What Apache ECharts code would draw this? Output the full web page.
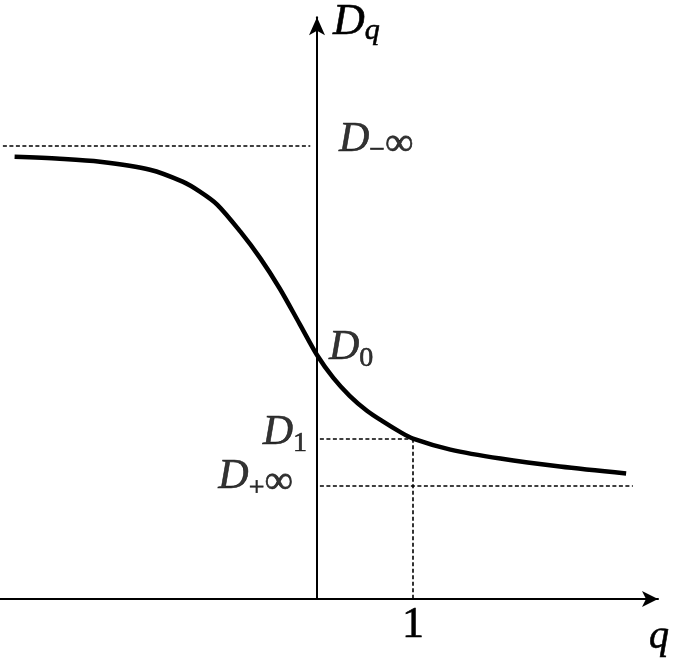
<!DOCTYPE html>
<html>
<head>
<meta charset="utf-8">
<title>D_q</title>
<script src="https://cdn.jsdelivr.net/npm/echarts@6/dist/echarts.min.js"></script>
<style>
    html, body { margin: 0; padding: 0; background: #fff; }
    #myChart { width: 685px; height: 660px; }
</style>
</head>
<body>
<div id="myChart"></div>
<script>
// curve D(q)
var qVals = [-3.15, -2.68, -2.26, -1.74, -1.40, -1.22, -1.04, -0.80, -0.59, -0.39, -0.18, 0, 0.17, 0.34, 0.52, 0.69, 0.86, 1.0, 1.39, 1.91, 2.53, 3.22];
var dVals = [4.44, 4.42, 4.39, 4.31, 4.19, 4.09, 3.96, 3.69, 3.42, 3.12, 2.76, 2.45, 2.22, 2.04, 1.89, 1.78, 1.68, 1.61, 1.50, 1.41, 1.33, 1.26];

// reference levels on the D axis
var levelNames = ['−∞', '0', '1', '+∞'];
var levelVals = [4.55, 2.45, 1.61, 1.14];
var qOne = 1;
var xTicks = [1];

var qMin = -3.302, qMax = 3.552;
var dMin = 0, dMax = 5.84;

var serif = 'Liberation Serif, Times New Roman, serif';
var myChart_1 = echarts.init(document.getElementById('myChart'));

function richText(big){
    var ink = {color: '#000', textBorderColor: '#000', textBorderWidth: 0.6, fontFamily: serif};
    return {
        d: echarts.util.extend({fontStyle: 'italic', fontSize: big || 42, lineHeight: 46, padding: [0, 0, 5, 0], verticalAlign: 'top'}, ink),
        s: echarts.util.extend({fontSize: 28, lineHeight: 28, verticalAlign: 'bottom'}, ink),
        inf: echarts.util.extend({fontSize: 40, lineHeight: 30, verticalAlign: 'bottom'}, ink),
        si: echarts.util.extend({fontStyle: 'italic', fontSize: 30, lineHeight: 30, verticalAlign: 'bottom'}, ink)
    };
}

var curve = [];
for(var i=0; i<qVals.length; i++){
    curve.push([qVals[i], dVals[i]]);
}

// label anchors sit on the D axis (q = 0)
var labelPos = ['right', 'right', 'left', 'left'];
var labelDist = [22, 12, 10, 24];
var labelOff = [[0, -4], [0, -5], [0, -4], [0, -6]];
var labelPts = [];
for(var j=0; j<levelVals.length; j++){
    labelPts.push({
        value: [0, levelVals[j]],
        label: {
            show: true, position: labelPos[j], distance: labelDist[j], offset: labelOff[j], color: '#000',
            formatter: '{d|D}{s|' + levelNames[j].replace('∞', '}{inf|∞') + '}',
            rich: richText()
        }
    });
}

var dash = {type: [4, 2.5], color: '#000', width: 1.6};
var option = {
    animation: false,
    backgroundColor: '#fff',
    grid: {left: 0, right: 27, top: 15, bottom: 61, containLabel: false},
    xAxis: {
        type: 'value', min: qMin, max: qMax,
        name: 'q', nameLocation: 'end', nameGap: 1,
        nameTextStyle: {fontFamily: serif, fontStyle: 'italic', fontSize: 40, color: '#000', textBorderColor: '#000', textBorderWidth: 0.6, align: 'center', verticalAlign: 'top', padding: [18, 0, 0, 0]},
        axisLine: {show: true, onZero: true, symbol: ['none', 'arrow'], symbolSize: [12, 16], lineStyle: {color: '#000', width: 2}},
        axisTick: {show: false},
        splitLine: {show: false},
        axisLabel: {customValues: xTicks, margin: 4, fontFamily: serif, fontSize: 44, color: '#000', textBorderColor: '#000', textBorderWidth: 0.6, formatter: function(v){ return String(v); }}
    },
    yAxis: {
        type: 'value', min: dMin, max: dMax,
        name: '{d|D}{si|q}', nameLocation: 'end', nameGap: -6,
        nameTextStyle: {align: 'left', verticalAlign: 'middle', padding: [0, 0, 0, 16], rich: richText(44)},
        axisLine: {show: true, onZero: true, symbol: ['none', 'arrow'], symbolSize: [12, 18], lineStyle: {color: '#000', width: 2}},
        axisTick: {show: false},
        splitLine: {show: false},
        axisLabel: {show: false}
    },
    series: [
        {
            name: 'Dq', type: 'line', smooth: 0.3, symbol: 'none',
            lineStyle: {color: '#000', width: 4.5},
            data: curve,
            markLine: {
                silent: true, symbol: ['none', 'none'], label: {show: false},
                lineStyle: dash,
                data: [
                    [{coord: [qMin + 0.03, levelVals[0]]}, {coord: [-0.07, levelVals[0]]}],
                    [{coord: [0.03, levelVals[3]]}, {coord: [3.29, levelVals[3]]}],
                    [{coord: [0.03, levelVals[2]]}, {coord: [qOne, levelVals[2]]}],
                    [{coord: [qOne, levelVals[2]]}, {coord: [qOne, dMin]}]
                ]
            }
        },
        {
            name: 'labels', type: 'scatter', symbolSize: 0, silent: true,
            data: labelPts
        }
    ]
};
myChart_1.setOption(option);
</script>
</body>
</html>
